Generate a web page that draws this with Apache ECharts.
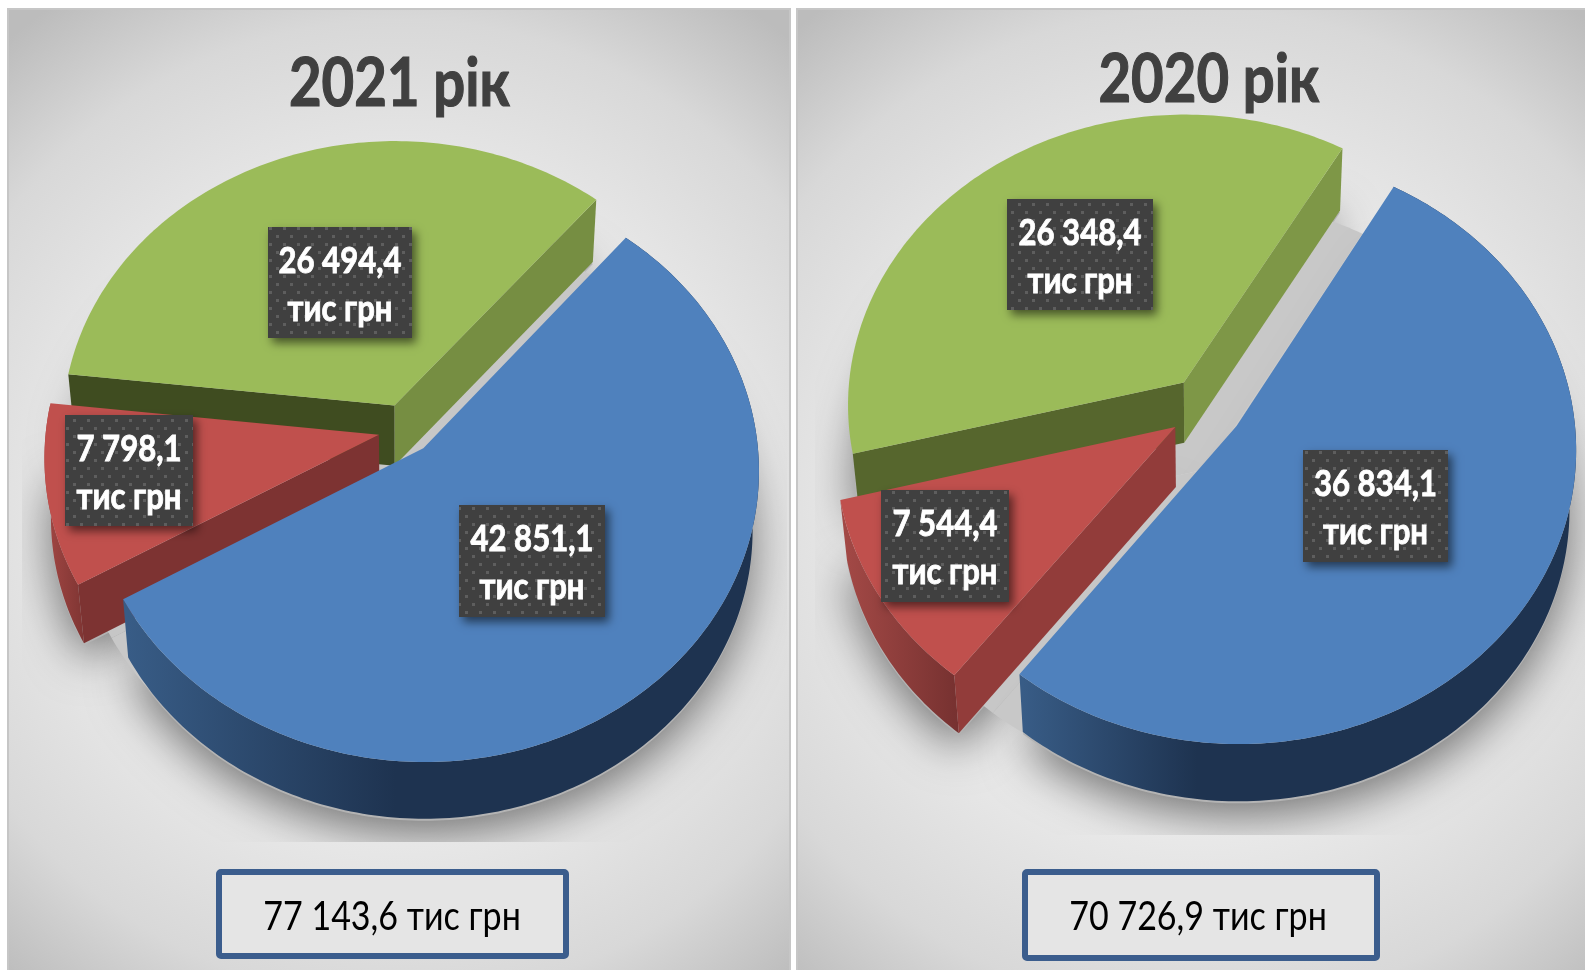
<!DOCTYPE html>
<html>
<head>
<meta charset="utf-8">
<style>html,body{margin:0;padding:0;background:#fff;overflow:hidden}#c{width:1585px;height:970px}</style>
<script src="https://cdn.jsdelivr.net/npm/echarts@6/dist/echarts.min.js"></script>
</head>
<body>
<div id="c"></div>
<script>
// ---- data ----
const titles = ['2021 рік', '2020 рік'];
const categories = ['blue', 'red', 'green'];
const values2021 = [42851.1, 7798.1, 26494.4];
const values2020 = [36834.1, 7544.4, 26348.4];
const totals = [77143.6, 70726.9];
const unit = 'тис грн';
const valueSets = [values2021, values2020];

// ---- layout & styling ----
const FONT = 'Lato,"Open Sans",sans-serif';
const pies = [
  { cx: 405.7, cy: 430, A: 333, B: 287.7, p: 0.0745, explode: [0.082, 0.082, 0.092], start: -50, sx: 0.982, sy: 0.99, depth: 60,
    panel: [8, 9, 782, 962], clip: [22, 120, 765, 722], titleX: 399.5, titleY: 84,
    box: [216, 869, 353, 90], boxText: [392, 917],
    labelBoxes: [[459, 505, 146, 112], [65, 415, 128, 111], [268, 227, 144, 111]],
    side: { red: '#7d3332', greenStart: '#3f4c20', greenEnd: '#768e42' },
    wallRed: ['#a94a47', '#7f3533'], wallSpan: 40 },
  { cx: 1207, cy: 409, A: 337, B: 291.6, p: 0.0745, explode: [0.105, 0.112, 0.115], start: -60, sx: 0.982, sy: 0.992, depth: 60,
    panel: [797, 9, 800, 962], clip: [815, 100, 770, 735], titleX: 1209, titleY: 80,
    box: [1022, 869, 358, 92], boxText: [1198, 917],
    labelBoxes: [[1303, 450, 145, 112], [881, 490, 128, 112], [1007, 199, 146, 111]],
    side: { red: '#923c3a', greenStart: '#56662d', greenEnd: '#7e9747' },
    wallRed: ['#a34946', '#763130'], wallSpan: 110 }
];
const topColors = { blue: '#4f81bd', red: '#c0504d', green: '#9bbb59' };
const SCALE = { title: 0.84, label: 0.84, total: 0.82 };

function fmt(v) {
  const parts = v.toFixed(1).split('.');
  return parts[0].replace(/\B(?=(\d{3})+$)/g, ' ') + ',' + parts[1];
}
function proj(c, u, v) {
  const d = 1 - c.p * v;
  return [c.cx + c.A * u / d, c.cy + c.B * v / d];
}
function drop(c, pt) {
  return [c.cx + (pt[0] - c.cx) * c.sx, c.cy + (pt[1] - c.cy) * c.sy + c.depth];
}
// geometry of one slice, from its value's share of the pie's total
function slice(c, values, idx, explode) {
  const total = values.reduce((a, b) => a + b, 0);
  let a0 = c.start;
  for (let i = 0; i < idx; i++) a0 += values[i] / total * 360;
  const a1 = a0 + values[idx] / total * 360;
  const mid = (a0 + a1) / 2 * Math.PI / 180;
  const u0 = explode * Math.cos(mid), v0 = explode * Math.sin(mid);
  const apex = proj(c, u0, v0);
  const arc = [];
  const n = Math.ceil(a1 - a0);
  for (let i = 0; i <= n; i++) {
    const t = (a0 + (a1 - a0) * i / n) * Math.PI / 180;
    arc.push(proj(c, u0 + Math.cos(t), v0 + Math.sin(t)));
  }
  return { apex, arc };
}
function poly(points, style, extra) {
  return Object.assign({ type: 'polygon', shape: { points }, style, silent: true }, extra || {});
}
function grad(x0, x1, stops) {
  return new echarts.graphic.LinearGradient(x0, 0, x1, 0, stops, true);
}

function renderSlice(pieIdx) {
  return function (params, api) {
    const c = pies[pieIdx], values = valueSets[pieIdx];
    const idx = api.value(0);
    const s = slice(c, values, idx, c.explode[idx]);
    const bApex = drop(c, s.apex), bArc = s.arc.map(p => drop(c, p));
    const first = s.arc[0], last = s.arc[s.arc.length - 1];
    const bFirst = bArc[0], bLast = bArc[bArc.length - 1];
    const name = categories[idx];
    const children = [];
    if (name === 'green') {
      children.push(poly([s.apex, last, bLast, bApex], { fill: c.side.greenEnd }));
      children.push(poly([s.apex, first, bFirst, bApex], { fill: c.side.greenStart }));
    }
    if (name === 'red') {
      children.push(poly(s.arc.concat(bArc.slice().reverse()), {
        fill: grad(first[0] - c.wallSpan, bFirst[0], [{ offset: 0, color: c.wallRed[0] }, { offset: 1, color: c.wallRed[1] }])
      }));
      children.push(poly([s.apex, first, bFirst, bApex], { fill: c.side.red }));
    }
    if (name === 'blue') {
      children.push(poly(s.arc.concat(bArc.slice().reverse()), {
        fill: grad(bLast[0], c.cx - 10, [{ offset: 0, color: '#385c86' }, { offset: 1, color: '#1e3350' }])
      }));
    }
    children.push(poly([s.apex].concat(s.arc), { fill: topColors[name] }));
    return { type: 'group', children };
  };
}
function renderShadow(pieIdx) {
  return function (params, api) {
    const c = pies[pieIdx], values = valueSets[pieIdx];
    const idx = api.value(0);
    const s = slice(c, values, idx, c.explode[idx]);
    const pts = [drop(c, s.apex)].concat(s.arc.map(p => drop(c, p))).map(p => [p[0], p[1] + 2]);
    const disc = slice(c, values, idx, 0);
    const discPts = [drop(c, disc.apex)].concat(disc.arc.map(p => drop(c, p)));
    const clipPath = { type: 'rect', shape: { x: c.clip[0], y: c.clip[1], width: c.clip[2], height: c.clip[3] } };
    return { type: 'group', silent: true, children: [
      poly(pts, { fill: '#b4b4b4', shadowBlur: 46, shadowOffsetY: 14, shadowColor: 'rgba(0,0,0,0.5)' }, { clipPath }),
      poly(discPts, { fill: '#c8c8c8' })
    ] };
  };
}
function dotPattern() {
  const cv = document.createElement('canvas');
  cv.width = 14; cv.height = 16;
  const g = cv.getContext('2d');
  g.fillStyle = '#404040'; g.fillRect(0, 0, 14, 16);
  g.fillStyle = '#5e5e5e';
  g.fillRect(3, 3, 3, 3); g.fillRect(10, 11, 3, 3);
  return cv;
}
const pattern = { image: dotPattern(), repeat: 'repeat' };

function textEl(text, x, y, scaleX, font, fill, z, strokeWidth) {
  const el = { type: 'text', x, y, scaleX, silent: true,
    style: { text, align: 'center', verticalAlign: 'middle', fill, font } };
  if (strokeWidth) { el.style.stroke = fill; el.style.lineWidth = strokeWidth; }
  if (z != null) el.z = z;
  return el;
}
function renderLabel(pieIdx) {
  return function (params, api) {
    const c = pies[pieIdx], values = valueSets[pieIdx];
    const idx = api.value(0);
    const b = c.labelBoxes[idx];
    const cx = b[0] + b[2] / 2;
    return {
      type: 'group', silent: true, children: [
        { type: 'rect', shape: { x: b[0], y: b[1], width: b[2], height: b[3] },
          style: { fill: '#404040', shadowBlur: 9, shadowOffsetX: 4, shadowOffsetY: 5, shadowColor: 'rgba(0,0,0,0.55)' } },
        { type: 'rect', shape: { x: b[0], y: b[1], width: b[2], height: b[3] }, style: { fill: pattern } },
        textEl(fmt(values[idx]), cx, b[1] + 34, SCALE.label, 'bold 37px ' + FONT, '#fff', null, 0.9),
        textEl(unit, cx, b[1] + 82.5, SCALE.label, 'bold 37px ' + FONT, '#fff', null, 0.9)
      ]
    };
  };
}

const series = [];
pies.forEach((c, i) => {
  const paintOrder = [2, 1, 0]; // far slice first, near slice last
  const rows = paintOrder.map(k => [k, valueSets[i][k]]);
  series.push({ type: 'custom', coordinateSystem: 'none', name: titles[i] + ' shadow', z: 2, silent: true, animation: false, clip: false, data: rows, renderItem: renderShadow(i) });
  series.push({ type: 'custom', coordinateSystem: 'none', name: titles[i], z: 3, silent: true, animation: false, clip: false, data: rows, renderItem: renderSlice(i) });
  series.push({ type: 'custom', coordinateSystem: 'none', name: titles[i] + ' labels', z: 4, silent: true, animation: false, clip: false, data: rows, renderItem: renderLabel(i) });
});

const graphic = [];
pies.forEach((c, i) => {
  const [x, y, w, h] = c.panel;
  graphic.push({ type: 'rect', z: 0, silent: true, shape: { x, y, width: w, height: h },
    style: { fill: new echarts.graphic.RadialGradient(0.5, 0.52, 0.78, [
      { offset: 0, color: '#f1f1f1' }, { offset: 0.5, color: '#eaeaea' }, { offset: 0.8, color: '#d8d8d8' }, { offset: 1, color: '#bcbcbc' }]),
      stroke: '#c6c6c6', lineWidth: 2 } });
  const [bx, by, bw, bh] = c.box;
  graphic.push({ type: 'rect', z: 1, silent: true, shape: { x: bx + 3, y: by + 3, width: bw - 6, height: bh - 6, r: 2 },
    style: { fill: '#e5e5e5', stroke: '#3b5d8d', lineWidth: 6 } });
  graphic.push(textEl(fmt(totals[i]) + ' ' + unit, c.boxText[0], c.boxText[1], SCALE.total, '41.5px ' + FONT, '#000', 1));
  graphic.push(textEl(titles[i], c.titleX, c.titleY, SCALE.title, 'bold 67px ' + FONT, '#404040', 5, 1.2));
});

const chart = echarts.init(document.getElementById('c'), null, { renderer: 'canvas' });
chart.setOption({
  animation: false,
  backgroundColor: '#fff',
  tooltip: { show: false },
  graphic: { elements: graphic },
  series
});
</script>
</body>
</html>
